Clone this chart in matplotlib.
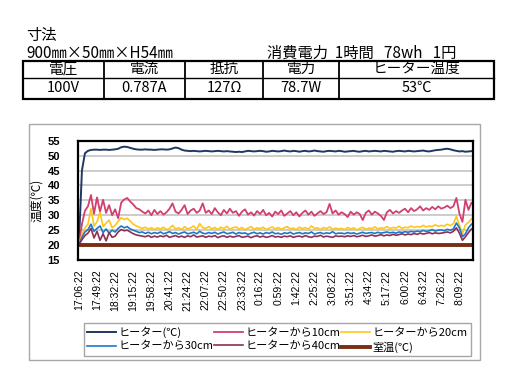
import numpy as np
import matplotlib
matplotlib.use("Agg")
import matplotlib.pyplot as plt
from matplotlib.patches import Rectangle

plt.rcParams['font.family'] = ['Noto Sans CJK JP', 'DejaVu Sans']

# --- data -----------------------------------------------------------------
time_labels = ['17:06:22', '17:49:22', '18:32:22', '19:15:22', '19:58:22',
               '20:41:22', '21:24:22', '22:07:22', '22:50:22', '23:33:22',
               '0:16:22', '0:59:22', '1:42:22', '2:25:22', '3:08:22',
               '3:51:22', '4:34:22', '5:17:22', '6:00:22', '6:43:22',
               '7:26:22', '8:09:22']
samples_per_label = 6

heater = [
    20.5, 45.0, 50.8, 51.6, 51.9, 52.0, 52.0, 51.9, 52.0, 52.0,
    51.9, 52.0, 52.1, 52.3, 52.8, 53.0, 52.9, 52.6, 52.3, 52.1,
    52.0, 52.0, 52.1, 52.0, 52.0, 51.9, 52.0, 52.1, 52.1, 52.0,
    52.1, 52.4, 52.7, 52.5, 52.0, 51.7, 51.6, 51.5, 51.6, 51.5,
    51.4, 51.5, 51.6, 51.5, 51.4, 51.5, 51.6, 51.5, 51.4, 51.5,
    51.4, 51.3, 51.2, 51.3, 51.2, 51.4, 51.6, 51.5, 51.4, 51.5,
    51.6, 51.5, 51.3, 51.4, 51.6, 51.5, 51.4, 51.5, 51.7, 51.5,
    51.4, 51.6, 51.5, 51.3, 51.5, 51.6, 51.4, 51.5, 51.7, 51.5,
    51.4, 51.3, 51.5, 51.6, 51.5, 51.4, 51.6, 51.5, 51.3, 51.4,
    51.5, 51.6, 51.4, 51.3, 51.5, 51.6, 51.4, 51.5, 51.6, 51.5,
    51.4, 51.6, 51.5, 51.4, 51.3, 51.5, 51.6, 51.5, 51.4, 51.6,
    51.5, 51.4, 51.5, 51.6, 51.7, 51.5, 51.4, 51.6, 51.8, 51.9,
    52.0, 52.2, 52.3, 52.1, 51.8, 51.6, 51.4, 51.5, 51.3, 51.4,
    51.5]

from_10cm = [
    20.3, 27.0, 31.5, 33.0, 36.8, 30.5, 36.0, 31.2, 35.2, 30.8,
    33.4, 30.0, 32.0, 29.0, 34.2, 35.3, 35.8, 34.6, 33.6, 32.4,
    32.0, 31.2, 30.6, 31.6, 30.0, 31.8, 30.4, 31.4, 30.2, 31.0,
    32.2, 34.0, 31.2, 30.6, 31.8, 33.4, 30.4, 31.6, 32.2, 30.8,
    31.6, 34.0, 30.8, 31.6, 30.4, 32.4, 31.0, 30.0, 31.8, 30.6,
    32.2, 30.8, 31.4, 29.8, 31.2, 32.0, 30.2, 31.0, 29.9, 31.4,
    30.4, 31.8, 30.0, 30.8, 29.6, 31.2, 30.4, 31.6, 29.8, 30.6,
    31.4, 30.0, 31.0, 29.6, 30.8, 31.6, 30.2, 31.2, 29.8, 30.6,
    31.4, 30.4, 31.0, 33.8, 30.6, 31.6, 30.2, 31.0, 30.4, 29.4,
    31.2, 30.2, 31.0, 30.4, 28.4, 30.8, 31.6, 30.2, 31.2, 30.6,
    29.8, 28.4, 31.0, 31.8, 30.6, 31.4, 30.8, 31.6, 32.2, 31.0,
    32.4, 31.4, 32.0, 33.0, 31.6, 32.4, 31.8, 32.8, 32.0, 33.0,
    32.2, 32.6, 33.2, 32.4, 33.0, 35.8, 30.6, 27.8, 35.2, 31.8,
    34.2]

from_20cm = [
    20.3, 23.5, 25.8, 27.0, 32.2, 26.4, 27.8, 31.0, 26.2, 27.4,
    28.4, 25.8, 26.6, 28.0, 29.2, 28.6, 29.0, 28.0, 27.0, 26.4,
    26.0, 25.6, 26.0, 25.4, 25.8, 25.2, 25.8, 25.4, 26.0, 25.2,
    25.6, 26.6, 25.4, 25.8, 25.2, 26.2, 25.4, 25.8, 26.4, 25.2,
    27.2, 25.8, 25.6, 26.2, 25.4, 25.9, 25.2, 26.0, 25.5, 26.3,
    25.3, 25.8, 26.1, 25.4, 25.9, 25.2, 25.7, 26.2, 25.3, 25.8,
    25.5, 26.0, 25.2, 25.7, 26.1, 25.4, 25.9, 25.3, 25.8, 26.2,
    25.4, 25.7, 25.2, 26.0, 25.5, 25.9, 25.3, 26.4, 25.6, 25.8,
    25.2, 25.9, 25.5, 26.1, 25.3, 25.7, 25.4, 25.6, 25.2, 25.9,
    25.4, 25.8, 25.1, 25.6, 26.0, 25.3, 25.7, 25.5, 26.1, 25.4,
    25.8, 25.6, 26.2, 25.5, 25.9, 25.7, 26.3, 25.6, 26.0, 25.8,
    26.4, 25.9, 26.2, 26.0, 26.6, 26.1, 26.4, 26.2, 26.8, 26.3,
    26.6, 26.4, 27.0, 26.5, 27.2, 29.6, 26.6, 23.8, 26.8, 27.6,
    28.8]

from_30cm = [
    20.2, 22.6, 24.4, 25.2, 27.0, 24.6, 25.6, 26.4, 24.2, 25.4,
    24.0, 25.0, 24.4, 25.6, 26.4, 25.8, 26.2, 25.4, 25.0, 24.6,
    24.2, 24.4, 23.9, 24.3, 23.8, 24.2, 23.9, 24.4, 23.8, 24.1,
    24.5, 23.9, 24.2, 23.7, 24.1, 24.4, 23.8, 24.0, 24.3, 23.8,
    24.6, 24.0, 23.8, 24.2, 23.9, 24.3, 23.7, 24.1, 24.4, 23.8,
    24.0, 24.3, 23.7, 24.2, 23.9, 24.1, 23.6, 24.0, 24.3, 23.8,
    24.1, 23.7, 24.2, 23.9, 24.4, 23.8, 24.0, 23.6, 24.1, 23.9,
    24.3, 23.7, 24.0, 24.2, 23.8, 24.1, 23.9, 24.4, 23.7, 24.0,
    24.2, 23.8, 24.1, 23.9, 24.5, 23.8, 24.0, 24.0, 23.8, 24.2,
    23.9, 24.1, 23.7, 24.0, 24.3, 23.9, 24.1, 24.2, 23.9, 24.3,
    24.0, 24.2, 24.4, 24.1, 24.3, 24.0, 24.4, 24.2, 24.5, 24.3,
    24.6, 24.4, 24.7, 24.5, 24.9, 24.6, 24.8, 25.2, 24.7, 25.0,
    25.1, 24.8, 25.3, 25.0, 25.4, 27.4, 25.8, 22.8, 23.8, 25.8,
    27.0]

from_40cm = [
    20.1, 21.8, 23.2, 24.0, 25.6, 22.4, 24.6, 21.6, 23.8, 21.4,
    24.2, 22.6, 23.0, 24.4, 25.2, 24.8, 25.0, 24.4, 23.8, 23.4,
    23.2, 23.0, 22.8, 23.2, 22.6, 23.0, 22.7, 23.1, 22.8, 23.3,
    22.6, 22.9, 23.2, 22.7, 23.0, 22.6, 23.1, 22.8, 23.4, 22.7,
    22.9, 23.1, 22.6, 23.0, 22.8, 23.2, 22.5, 22.9, 23.1, 22.6,
    23.0, 22.7, 22.9, 23.2, 22.6, 22.8, 23.0, 22.5, 22.9, 23.1,
    22.7, 23.0, 22.6, 22.8, 23.2, 22.7, 22.9, 22.6, 23.0, 22.8,
    23.1, 22.6, 22.9, 23.0, 22.7, 23.2, 22.8, 22.6, 23.0, 22.9,
    23.3, 22.7, 23.0, 22.8, 22.6, 23.1, 22.9, 23.0, 22.8, 23.1,
    22.9, 23.2, 22.8, 23.0, 23.3, 22.9, 23.1, 23.4, 23.0, 23.2,
    23.5, 23.1, 23.4, 23.2, 23.6, 23.3, 23.5, 23.8, 23.4, 23.7,
    23.5, 23.9, 23.6, 24.0, 23.7, 23.9, 24.2, 23.8, 24.1, 23.9,
    24.0, 24.2, 24.4, 24.1, 24.6, 25.8, 24.0, 21.6, 22.8, 24.2,
    25.4]

room_temp = [
    20.0, 20.0, 20.0, 20.0, 20.0, 20.0, 20.0, 20.0, 20.0, 20.0,
    20.0, 20.0, 20.0, 20.0, 20.0, 20.0, 20.0, 20.0, 20.0, 20.0,
    20.0, 20.0, 20.0, 20.0, 20.0, 20.0, 20.0, 20.0, 20.0, 20.0,
    20.0, 20.0, 20.0, 20.0, 20.0, 20.0, 20.0, 20.0, 20.0, 20.0,
    20.0, 20.0, 20.0, 20.0, 20.0, 20.0, 20.0, 20.0, 20.0, 20.0,
    20.0, 20.0, 20.0, 20.0, 20.0, 20.0, 20.0, 20.0, 20.0, 20.0,
    20.0, 20.0, 20.0, 20.0, 20.0, 20.0, 20.0, 20.0, 20.0, 20.0,
    20.0, 20.0, 20.0, 20.0, 20.0, 20.0, 20.0, 20.0, 20.0, 20.0,
    20.0, 20.0, 20.0, 20.0, 20.0, 20.0, 20.0, 20.0, 20.0, 20.0,
    20.0, 20.0, 20.0, 20.0, 20.0, 20.0, 20.0, 20.0, 20.0, 20.0,
    20.0, 20.0, 20.0, 20.0, 20.0, 20.0, 20.0, 20.0, 20.0, 20.0,
    20.0, 20.0, 20.0, 20.0, 20.0, 20.0, 20.0, 20.0, 20.0, 20.0,
    20.0, 20.0, 20.0, 20.0, 20.0, 20.0, 20.0, 20.0, 20.0, 20.0,
    20.0]

series_names = ['ヒーター(℃)', 'ヒーターから10cm', 'ヒーターから20cm',
                'ヒーターから30cm', 'ヒーターから40cm', '室温(℃)']
series_colors = ['#1F3864', '#D23F70', '#FFC61A', '#1E78C8', '#8E2F55', '#7A2E14']
series_widths = [1.4, 1.3, 1.2, 1.2, 1.2, 2.8]
series_data = [heater, from_10cm, from_20cm, from_30cm, from_40cm, room_temp]

table_header = ['電圧', '電流', '抵抗', '電力', 'ヒーター温度']
table_values = ['100V', '0.787A', '127Ω', '78.7W', '53℃']

# --- figure ---------------------------------------------------------------
W, H = 524, 382
fig = plt.figure(figsize=(W / 100, H / 100), dpi=100)
fig.patch.set_facecolor('white')

# pixel-coordinate overlay for the header text, table and chart frame
bg = fig.add_axes([0, 0, 1, 1])
bg.set_xlim(0, W)
bg.set_ylim(H, 0)
bg.axis('off')

bg.text(26, 35, '寸法', fontsize=11, va='center', ha='left')
bg.text(26, 53, '900㎜×50㎜×H54㎜', fontsize=11, va='center', ha='left')
bg.text(267, 53, '消費電力  1時間   78wh   1円', fontsize=11, va='center', ha='left')

col_edges = [22.5, 104, 185, 263, 339, 494]
row_edges = [61, 77.5, 99]
bg.add_patch(Rectangle((col_edges[0], row_edges[0]), col_edges[-1] - col_edges[0],
                       row_edges[-1] - row_edges[0], fill=False, lw=1.6, ec='black'))
bg.plot([col_edges[0], col_edges[-1]], [row_edges[1], row_edges[1]], color='black', lw=1.0)
for cx in col_edges[1:-1]:
    bg.plot([cx, cx], [row_edges[0], row_edges[-1]], color='black', lw=1.3)
for k in range(len(table_header)):
    cx = (col_edges[k] + col_edges[k + 1]) / 2
    bg.text(cx, (row_edges[0] + row_edges[1]) / 2, table_header[k], fontsize=10.5,
            ha='center', va='center')
    bg.text(cx, (row_edges[1] + row_edges[2]) / 2, table_values[k], fontsize=10.5,
            ha='center', va='center')

bg.add_patch(Rectangle((29, 124), 451, 236, fill=False, lw=1.0, ec='#A8A8A8'))

# plot area
ax = fig.add_axes([78 / W, 1 - 260 / H, (473 - 78) / W, (260 - 140.7) / H])
ax.set_facecolor('white')
lines = []
for name, data, c, lw in zip(series_names, series_data, series_colors, series_widths):
    ln, = ax.plot(np.arange(len(data)), data, color=c, lw=lw, label=name)
    lines.append(ln)

ax.set_ylim(15, 55)
ax.set_yticks(np.arange(15, 56, 5))
ax.set_xlim(-0.3, 130.5)
ax.set_xticks(np.arange(len(time_labels)) * samples_per_label)
ax.set_xticklabels(time_labels, rotation=90, fontsize=7.5, family='Liberation Sans')
for lab in ax.get_yticklabels():
    lab.set_family('Liberation Sans')
    lab.set_fontweight('bold')
    lab.set_fontsize(8)
ax.tick_params(axis='both', length=0)
ax.tick_params(axis='y', pad=13)
ax.tick_params(axis='x', pad=7)
ax.grid(axis='y', color='#C4C4C4', lw=1.2)
ax.set_axisbelow(True)
for sp in ax.spines.values():
    sp.set_linewidth(1.6)
    sp.set_color('black')
ax.set_ylabel('温度(℃)', fontsize=8.5, labelpad=3)

# legend filled row by row (matplotlib fills columns first)
order = [0, 3, 1, 4, 2, 5]
ax.legend([lines[k] for k in order], [series_names[k] for k in order],
          loc='lower left', bbox_to_anchor=(84 / W, 1 - 356 / H, 387 / W, 35 / H),
          bbox_transform=fig.transFigure, mode='expand', ncol=3, fontsize=8,
          frameon=True, fancybox=False, edgecolor='#909090', handlelength=2.6,
          handletextpad=0.2, borderaxespad=0, borderpad=0.3, labelspacing=0.3,
          columnspacing=1.0)

fig.savefig('out.png', dpi=100)
